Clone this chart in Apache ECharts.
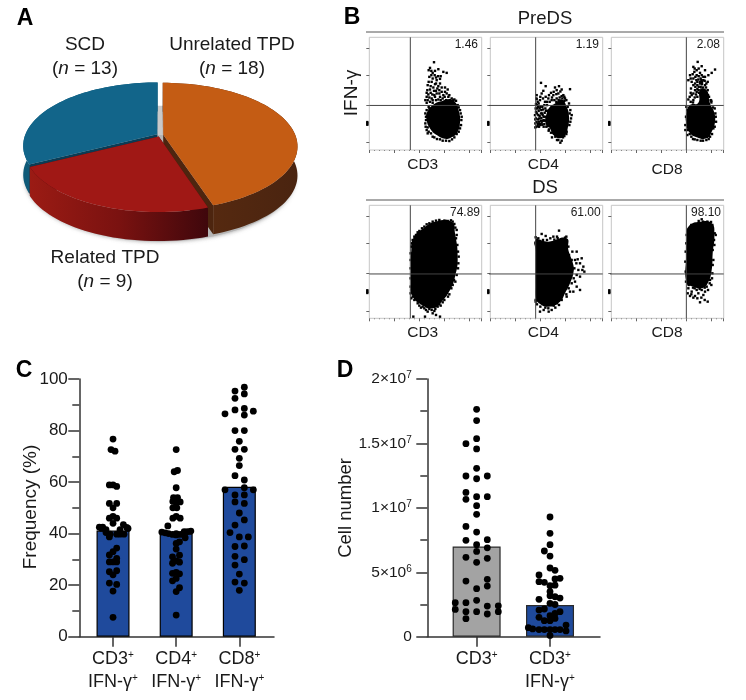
<!DOCTYPE html>
<html><head><meta charset="utf-8">
<style>html,body{margin:0;padding:0;background:#fff}#c{width:746px;height:700px}</style>
<script src="https://cdn.jsdelivr.net/npm/echarts@6/dist/echarts.min.js"></script>
</head><body><div id="c"></div>
<script>
// ---------- Panel A
const pieLabels = ['Unrelated TPD','Related TPD','SCD'];
const pieValues = [18,9,13];
// ---------- Panel B: flow plots (channel units; the outline is the saturated core of each cloud)
const flowTitles = ['PreDS','DS'];
const flowMarkers = ['CD3','CD4','CD8'];
const flowPercents = [['1.46','1.19','2.08'],['74.89','61.00','98.10']];
const vGates = [123,136,225];
const hGates = [134,133];
const core_pre_cd3 = [[197,140],[217,147],[242,152],[259,142],[269,115],[272,85],[265,55],[247,38],[227,34],[202,45],[182,65],[172,90],[174,115]];
const dots_pre_cd3 = [[194,264],[182,247],[207,243],[232,232],[197,238],[222,235],[180,220],[190,215],[202,210],[212,214],[187,205],[197,198],[175,195],[207,192],[217,188],[182,182],[194,178],[227,188],[174,180],[235,182],[189,167],[202,170],[217,175],[227,175],[177,167],[187,155],[197,160],[212,160],[222,165],[237,160],[182,145],[247,155],[207,152],[175,150],[232,170],[242,150],[170,100],[168,80],[172,60],[185,50],[195,38],[212,32],[230,28],[248,32],[262,48],[272,65],[276,90],[274,110],[268,128],[260,148],[178,130],[172,160],[180,158],[184,172],[190,150],[195,165],[200,178],[204,185],[210,170],[214,150],[220,155],[226,160],[230,150],[236,148],[240,165],[184,192],[192,188],[200,200],[212,200],[178,205],[172,172],[186,225],[196,225],[206,222],[186,238],[190,232],[200,218],[214,222],[178,240],[210,180],[200,150],[168,150],[190,142],[252,150],[172,142],[170,90],[168,110],[169,70],[175,50],[178,55],[190,40],[203,33],[220,28],[240,27],[255,38],[268,55],[275,75],[277,100],[272,120],[265,135],[255,152],[180,125],[172,120],[175,68],[-6,76],[-6,80],[-6,84]];
const core_pre_cd4 = [[194,140],[214,152],[229,130],[236,100],[232,65],[224,45],[209,35],[189,45],[179,65],[166,80],[169,110],[179,130]];
const dots_pre_cd4 = [[136,125],[140,110],[137,95],[135,80],[142,72],[145,118],[150,130],[148,102],[152,88],[146,85],[158,122],[156,76],[160,100],[163,112],[164,88],[155,110],[140,135],[150,75],[160,70],[138,70],[143,92],[153,96],[165,125],[170,135],[134,105],[168,70],[175,58],[142,145],[138,155],[152,202],[166,192],[159,178],[194,188],[206,192],[239,183],[199,180],[214,182],[154,170],[174,155],[189,165],[204,170],[219,165],[139,165],[139,153],[149,150],[164,145],[184,150],[199,155],[224,155],[238,110],[242,95],[237,75],[229,55],[218,38],[210,22],[200,30],[185,38],[232,130],[222,148],[137,115],[141,125],[144,105],[147,95],[149,78],[153,120],[157,105],[160,90],[162,78],[165,100],[167,118],[170,95],[172,72],[135,92],[135,68],[139,84],[143,78],[146,70],[154,82],[158,88],[152,110],[148,125],[156,130],[162,135],[143,130],[137,138],[172,118],[174,100],[170,145],[178,145],[185,158],[192,150],[198,145],[208,158],[214,162],[222,160],[228,150],[176,165],[182,172],[190,175],[198,168],[210,176],[158,155],[150,160],[145,140],[166,160],[205,150],[216,155],[204,30],[214,28],[222,42],[228,48],[195,40],[182,52],[176,62],[240,85],[244,105],[240,120],[236,140],[-6,76],[-6,80],[-6,84]];
const core_pre_cd8 = [[236,135],[261,142],[266,180],[286,180],[296,140],[308,115],[311,85],[301,55],[286,35],[256,38],[233,55],[224,85],[226,115]];
const dots_pre_cd8 = [[259,265],[246,250],[271,252],[256,240],[281,240],[249,235],[266,232],[311,242],[301,232],[291,225],[236,225],[256,225],[271,225],[281,220],[246,215],[261,212],[276,210],[289,205],[241,205],[231,210],[251,200],[266,200],[281,195],[239,185],[251,180],[231,152],[241,165],[254,167],[289,180],[293,160],[246,150],[255,210],[268,215],[262,190],[272,205],[258,195],[275,188],[285,200],[268,190],[278,178],[263,172],[272,170],[282,165],[222,75],[228,45],[240,40],[250,32],[268,28],[285,30],[296,40],[306,65],[313,100],[310,125],[300,143],[225,130],[262,222],[252,220],[244,228],[238,215],[258,205],[270,210],[276,220],[262,245],[250,245],[266,205],[272,198],[280,208],[258,183],[252,190],[246,195],[284,188],[270,182],[262,180],[280,172],[256,175],[246,170],[238,172],[235,160],[238,145],[245,143],[250,158],[258,160],[290,165],[298,150],[300,148],[290,150],[224,100],[222,60],[235,48],[245,33],[258,30],[275,28],[292,33],[302,48],[310,70],[314,85],[312,110],[305,128],[228,120],[230,60],[-6,76],[-6,80],[-6,84]];
const core_ds_cd3 = [[197,290],[247,290],[257,255],[265,180],[257,125],[242,85],[217,50],[192,30],[157,40],[128,70],[125,110],[125,145],[126,205],[132,240],[162,270]];
const dots_ds_cd3 = [[200,293],[225,293],[245,294],[255,283],[262,265],[260,240],[266,200],[267,165],[258,110],[250,100],[240,72],[225,55],[205,35],[187,25],[175,20],[190,15],[200,10],[170,25],[150,38],[135,55],[126,60],[124,95],[128,225],[140,250],[150,262],[165,275],[180,285],[212,5],[195,22],[132,5],[167,5],[124,120],[124,150],[124,175],[124,195],[126,215],[130,235],[135,245],[145,258],[158,270],[172,282],[190,290],[210,295],[235,292],[250,290],[258,272],[262,250],[264,220],[268,185],[266,150],[262,130],[254,115],[246,90],[236,65],[220,48],[210,42],[198,28],[180,28],[160,35],[145,45],[130,65],[124,75],[165,30],[155,32],[214,38],[-6,76],[-6,80],[-6,84]];
const core_ds_cd4 = [[136,235],[174,230],[229,240],[234,205],[249,160],[249,135],[239,105],[224,75],[209,50],[174,35],[144,47],[137,60],[136,100],[136,150],[136,200]];
const dots_ds_cd4 = [[259,200],[274,180],[269,165],[279,155],[264,145],[282,140],[259,130],[269,125],[254,110],[259,95],[269,85],[249,80],[239,80],[229,65],[206,40],[184,25],[149,20],[174,30],[154,253],[166,247],[206,263],[189,245],[202,240],[224,242],[144,240],[234,215],[246,200],[254,175],[262,177],[276,145],[136,243],[140,236],[148,232],[158,235],[170,235],[180,240],[192,236],[200,245],[215,238],[228,245],[136,225],[236,190],[244,175],[252,150],[258,165],[250,120],[244,105],[235,90],[228,72],[214,55],[200,45],[190,38],[165,32],[150,35],[140,42],[136,50],[160,25],[175,20],[195,32],[136,55],[-6,76],[-6,80],[-6,84]];
const core_ds_cd8 = [[231,275],[266,290],[301,285],[309,250],[304,195],[301,145],[289,105],[271,90],[246,95],[226,105],[224,185],[226,245]];
const dots_ds_cd8 = [[271,297],[299,289],[313,250],[309,220],[306,175],[303,135],[296,115],[286,95],[289,50],[266,48],[251,67],[236,67],[229,75],[261,75],[276,70],[241,80],[256,85],[271,85],[281,80],[231,90],[226,250],[232,265],[240,280],[250,283],[262,292],[275,290],[288,290],[303,280],[310,255],[308,235],[304,205],[304,160],[302,120],[295,105],[280,92],[265,88],[245,92],[232,100],[224,110],[223,140],[222,170],[223,200],[225,225],[240,72],[246,62],[258,60],[270,62],[280,55],[250,90],[290,85],[300,100],[-6,76],[-6,80],[-6,84]];
const flowCores = [[core_pre_cd3,core_pre_cd4,core_pre_cd8],[core_ds_cd3,core_ds_cd4,core_ds_cd8]];
const flowDots = [[dots_pre_cd3,dots_pre_cd4,dots_pre_cd8],[dots_ds_cd3,dots_ds_cd4,dots_ds_cd8]];
// ---------- Panel C: [horizontal swarm offset, frequency %]
const freqCats = ['CD3','CD4','CD8'];
const freqMeans = [41.2,40,58.2];
const freqCd3 = [[0,76.7],[-6,72.6],[6,72],[-11,58.9],[0,58.9],[11,58.3],[-11,51.7],[11,51.7],[0,50],[0,46.7],[-11,46],[11,46],[0,44],[-41,42.5],[-31,42.5],[31,43.5],[41,42.4],[-21,41.5],[21,41.5],[-34,42],[45,42],[-9,39.8],[11,39.8],[33,39.8],[-21,40.4],[21,39.8],[-11,38.7],[11,34.4],[0,33],[-11,31.7],[11,30.4],[-11,29],[0,29],[11,29],[-11,25.2],[11,25.6],[0,24],[-11,20.8],[11,20.3],[0,17.7],[0,7.5]];
const freqCd4 = [[0,72.6],[-6,64],[4,64.5],[0,57.8],[-8,54],[4,54],[-10,52.5],[12,52.3],[0,52],[-10,50],[2,50],[0,46.7],[-10,46],[12,46],[-25,43],[-43,40.6],[-33,40.3],[-23,40],[-11,39.7],[0,40],[12,39.7],[24,40.8],[34,40.8],[44,41],[0,39.5],[27,38.4],[10,36.8],[0,36.2],[0,34],[10,31.6],[-11,31],[0,29.4],[10,28.9],[-11,28.5],[0,25],[-11,24.6],[10,24.4],[0,22.6],[-11,21.7],[10,19],[0,17.5],[0,8.4]];
const freqCd8 = [[-13,95.3],[15,96.8],[15,94.2],[-13,92.5],[-43,86.5],[-13,88],[15,88.6],[42,87.5],[15,86],[-13,80],[15,80],[0,75.8],[-13,72.7],[15,72.7],[0,69.2],[0,66.4],[-13,62.5],[15,60.8],[15,57.8],[-43,57],[42,57],[-13,55],[15,55],[-13,52.3],[15,51.7],[0,48],[15,45.3],[-13,43.3],[-28,40.4],[0,38.7],[27,38.7],[-13,35],[15,35.2],[-13,31.2],[15,29.9],[-13,27.8],[0,24.3],[-13,21.2],[15,20.8],[0,18]];
const freqDots = [freqCd3,freqCd4,freqCd8];
// ---------- Panel D: [offset, millions of cells]
const cellCats = ['CD3','CD3 IFN'];
const cellMeans = [7.0,2.46];
const cellTickLabels = {0:'0',5e6:'5×10|6',1e7:'1×10|7',1.5e7:'1.5×10|7',2e7:'2×10|7'};
const cellCd3 = [[0,17.65],[0,16.77],[0,15.37],[-32,14.98],[0,14.57],[0,13.07],[-32,12.47],[32,12.47],[0,12.26],[-32,11.2],[-32,10.66],[0,10.87],[32,10.87],[0,10.17],[0,9.5],[-32,8.56],[0,8.12],[-32,7.48],[32,7.53],[0,7.14],[32,6.9],[0,6.62],[-32,6.16],[32,6.08],[0,5.77],[-32,4.32],[32,4.45],[32,3.93],[0,3.73],[0,2.82],[-64,2.64],[-32,2.64],[-64,2.12],[32,2.38],[65,2.4],[65,1.94],[-32,1.94],[0,1.94],[32,1.76],[-32,1.4]];
const cellIfn = [[0,9.29],[0,8.02],[0,7.14],[-17,6.65],[0,6.26],[0,5.33],[15,5.15],[-33,4.79],[30,4.53],[15,4.48],[-33,4.27],[-17,4.22],[0,3.96],[15,4.0],[0,3.5],[0,3.18],[15,3.1],[30,3.0],[-33,2.9],[0,2.59],[15,2.5],[-17,2.15],[-33,2.07],[30,1.94],[15,1.8],[0,1.63],[-33,1.5],[-17,1.24],[0,1.24],[15,1.42],[48,0.9],[-33,0.55],[-17,0.55],[0,0.55],[15,0.55],[30,0.55],[48,0.45],[-65,0.7],[-52,0.6],[0,0.1]];
const cellDots = [cellCd3,cellIfn];

const FONT = '"Liberation Sans", Arial, sans-serif';
const chart = echarts.init(document.getElementById('c'));
const grid=[], xAxis=[], yAxis=[], series=[], graphic=[];

function txt(t,x,y,size,extra){
  graphic.push(Object.assign({type:'text',x,y,silent:true,style:Object.assign({text:t,fontFamily:FONT,fontSize:size,fill:'#1a1a1a',textAlign:'center',textVerticalAlign:'middle'},extra&&extra.style||{})},extra&&extra.el||{}));
}
// panel letters
[['A',25,19],['B',352,18],['C',24,371],['D',345,371]].forEach(p=>txt(p[0],p[1],p[2],23,{style:{fontWeight:'bold',fill:'#000'}}));

// ---------- Panel A
const pieTotal = pieValues.reduce((a,b)=>a+b,0);
const starts = pieValues.map((v,i)=>pieValues.slice(0,i).reduce((a,b)=>a+b,0)/pieTotal*Math.PI*2);
const PIE = {cx:160,cy:135,B:132,A:61.4,p:0.181,depth:29,explode:0.025};
function proj(u,v,dz){const k=1-PIE.p*v;return [PIE.cx+PIE.B*u/k,PIE.cy+PIE.A*v/k+(dz||0)];}
const pieStyle = [
 {top:'#c45c14',wall:['#5c2c10','#4a2410'],cut:'#4d250f'},
 {top:'#a01815',wall:['#9b1b14','#7a1210','#3f070c'],cut:'#4a0a0c'},
 {top:'#12658a',wall:['#0e5a78','#0e5a78'],cut:'#0a3c55'}
];
function grad(cols){return new echarts.graphic.LinearGradient(0,0,1,0,cols.map((c,i)=>({offset:i/(cols.length-1),color:c})));}
series.push({type:'custom',coordinateSystem:'none',silent:true,z:1,
 data:[2,0,1].map(i=>[pieValues[i],i]),
 renderItem(params,api){
  const i=api.value(1), a0=starts[i], a1=a0+api.value(0)/pieTotal*Math.PI*2, mid=(a0+a1)/2;
  const eu=Math.sin(mid)*PIE.explode, ev=-Math.cos(mid)*PIE.explode;
  const arc=(dz)=>{const pts=[];for(let t=a0;t<a1;t+=0.04)pts.push(proj(Math.sin(t)+eu,-Math.cos(t)+ev,dz));pts.push(proj(Math.sin(a1)+eu,-Math.cos(a1)+ev,dz));return pts;};
  const ap=proj(eu,ev,0), apB=proj(eu,ev,PIE.depth), s=pieStyle[i], children=[];
  if(params.dataIndex===0){
    const ring=[];for(let t=0;t<6.3;t+=0.05)ring.push(proj(Math.sin(t)*1.005,-Math.cos(t)*1.005,PIE.depth+2));
    children.push({type:'polygon',shape:{points:ring},style:{fill:'#b5b5b5',shadowBlur:4,shadowColor:'rgba(110,110,110,0.7)'}});
    children.push({type:'polygon',shape:{points:[proj(-0.028,-0.52),proj(0.028,-0.52),proj(0.028,0),proj(-0.028,0)]},style:{fill:'#c9c9c9'}});
  }
  const top=arc(0), bot=arc(PIE.depth);
  children.push({type:'polygon',shape:{points:[ap,top[top.length-1],bot[bot.length-1],apB]},style:{fill:s.cut}});
  children.push({type:'polygon',shape:{points:[ap,top[0],bot[0],apB]},style:{fill:s.cut}});
  children.push({type:'polygon',shape:{points:top.concat(bot.slice().reverse())},style:{fill:grad(s.wall)}});
  children.push({type:'polygon',shape:{points:[ap].concat(top)},style:{fill:s.top}});
  return {type:'group',children};
 }});
const pieRich={i:{fontFamily:FONT,fontSize:19,fontStyle:'italic',fill:'#1a1a1a'},r:{fontFamily:FONT,fontSize:19,fill:'#1a1a1a'}};
[[0,232,45,69],[1,105,258,282],[2,85,45,69]].forEach(l=>{
  txt(pieLabels[l[0]],l[1],l[2],19);
  txt('{r|(}{i|n}{r| = '+pieValues[l[0]]+')}',l[1],l[3],19,{style:{rich:pieRich}});
});

// ---------- Panel B
const panelLefts=[369.3,490.3,611.3], PW=112.4;
const panelRow=[{top:37.3,h:112.7,labelY:[165,165,170],pctY:45,pctR:[478,599,720],titleY:19,lineY:32},
                {top:205.3,h:113,labelY:[333,333,333],pctY:213,pctR:[480,600.7,721],titleY:188,lineY:200}];
const labelX=[422.7,543.3,667];
function lineSeries(pts,gi){return {type:'line',xAxisIndex:gi,yAxisIndex:gi,data:pts,showSymbol:false,silent:true,clip:false,animation:false,lineStyle:{color:'#454545',width:1},z:5};}
panelRow.forEach((row,r)=>{
  txt(flowTitles[r],545,row.titleY,18.5);
  graphic.push({type:'line',silent:true,shape:{x1:366,y1:row.lineY,x2:724,y2:row.lineY},style:{stroke:'#555',lineWidth:1}});
  panelLefts.forEach((left,c)=>{
    const gi=grid.length;
    grid.push({left,top:row.top,width:PW,height:row.h,show:true,borderColor:'#c6c6c6',borderWidth:1,backgroundColor:'#fff'});
    xAxis.push({type:'value',gridIndex:gi,min:0,max:337,interval:75,axisLabel:{show:false},splitLine:{show:false},axisLine:{show:false},axisTick:{length:3,lineStyle:{color:'#666'}},minorTick:{show:true,splitNumber:5,length:1,lineStyle:{color:'#888'}}});
    yAxis.push({type:'value',gridIndex:gi,min:0,max:339,axisLabel:{show:false},splitLine:{show:false},axisLine:{show:false},axisTick:{length:3,customValues:[22,134,226,305],lineStyle:{color:'#666'}}});
    series.push({type:'custom',xAxisIndex:gi,yAxisIndex:gi,clip:false,silent:true,z:3,encode:{x:0,y:1},data:flowCores[r][c],
      renderItem(params,api){ if(params.dataIndex!==0) return null;
        return {type:'polygon',shape:{points:flowCores[r][c].map(p=>api.coord(p)),smooth:0.5},style:{fill:'#000'}}; }});
    series.push({type:'scatter',xAxisIndex:gi,yAxisIndex:gi,data:flowDots[r][c],symbol:'rect',symbolSize:2.4,clip:false,silent:true,itemStyle:{color:'#000',opacity:1},z:4});
    const ext=c===0?0:-30;
    series.push(lineSeries([[ext,hGates[r]],[337,hGates[r]]],gi));
    series.push(lineSeries([[vGates[c],0],[vGates[c],339]],gi));
    txt(flowPercents[r][c],row.pctR[c],row.pctY,12,{style:{textAlign:'right'}});
    txt(flowMarkers[c],labelX[c],row.labelY[c],15.5);
  });
});
txt('IFN-γ',352,93,19,{el:{rotation:Math.PI/2}});

// ---------- Panels C and D
const sup={n:{fontFamily:FONT,fontSize:18,color:'#1a1a1a',lineHeight:23},s:{fontFamily:FONT,fontSize:10,color:'#1a1a1a',padding:[0,0,7,0],lineHeight:23}};
function barPanel(o){
  const gi=grid.length;
  grid.push({left:o.left,top:379,width:o.width,height:257.7});
  xAxis.push({type:'value',gridIndex:gi,min:o.min,max:o.max,splitLine:{show:false},
    axisLine:{onZero:false,lineStyle:{color:'#333',width:1.5}},
    axisTick:{customValues:o.cats,length:10,lineStyle:{color:'#333',width:1.5}},
    axisLabel:{customValues:o.cats,margin:o.catMargin,formatter:o.catFmt,rich:sup,hideOverlap:false,showMinLabel:true,showMaxLabel:true}});
  yAxis.push({type:'value',gridIndex:gi,min:0,max:o.ymax,interval:o.yint,splitLine:{show:false},
    axisLine:{show:true,lineStyle:{color:'#333',width:1.5}},
    axisTick:{length:11,lineStyle:{color:'#333',width:1.5}},
    minorTick:{show:true,splitNumber:2,length:7,lineStyle:{color:'#333',width:1.5}},
    axisLabel:o.yLabel});
  series.push({type:'bar',xAxisIndex:gi,yAxisIndex:gi,barWidth:o.barW,silent:true,z:2,
    data:o.means.map((m,i)=>({value:[i+1,m*o.scale],itemStyle:{color:o.colors[i],borderColor:o.border,borderWidth:1.2}}))});
  o.dots.forEach((arr,i)=>series.push({type:'scatter',xAxisIndex:gi,yAxisIndex:gi,symbolSize:6.8,silent:true,clip:false,z:4,itemStyle:{color:'#000',opacity:1},
    data:arr.map(d=>[i+1+d[0]/o.unit,d[1]*o.scale])}));
}
barPanel({left:79.3,width:194.7,min:0.466,max:3.549,cats:[1,2,3],catMargin:11,
  catFmt:v=>`{n|${freqCats[v-1]}}{s|+}\n{n|IFN-γ}{s|+}`,ymax:100,yint:20,
  yLabel:{fontFamily:FONT,fontSize:17,color:'#1a1a1a',margin:11.5},barW:33,means:freqMeans,scale:1,colors:['#1f4a9c','#1f4a9c','#1f4a9c'],border:'#000',dots:freqDots,unit:189.4});
barPanel({left:427.3,width:172.7,min:0.328,max:2.681,cats:[1,2],catMargin:11,
  catFmt:v=>v===1?`{n|CD3}{s|+}`:`{n|CD3}{s|+}\n{n|IFN-γ}{s|+}`,ymax:2e7,yint:5e6,
  yLabel:{fontFamily:FONT,fontSize:15.5,color:'#1a1a1a',margin:15.5,rich:{n:{fontFamily:FONT,fontSize:15.5,color:'#1a1a1a'},s:{fontFamily:FONT,fontSize:10,color:'#1a1a1a',padding:[0,0,7,0]}},
    formatter:v=>{const t=cellTickLabels[v].split('|');return t.length>1?`{n|${t[0]}}{s|${t[1]}}`:`{n|${t[0]}}`;}},
  barW:48,means:cellMeans,scale:1e6,colors:['#a3a3a3','#1f4a9c'],border:'#2a2a2a',dots:cellDots,unit:220});
txt('Frequency (%)',30.5,507,19,{el:{rotation:Math.PI/2}});
txt('Cell number',346,508,18.5,{el:{rotation:Math.PI/2}});

chart.setOption({animation:false,backgroundColor:'#fff',grid,xAxis,yAxis,series,graphic:{elements:graphic}});
</script></body></html>
